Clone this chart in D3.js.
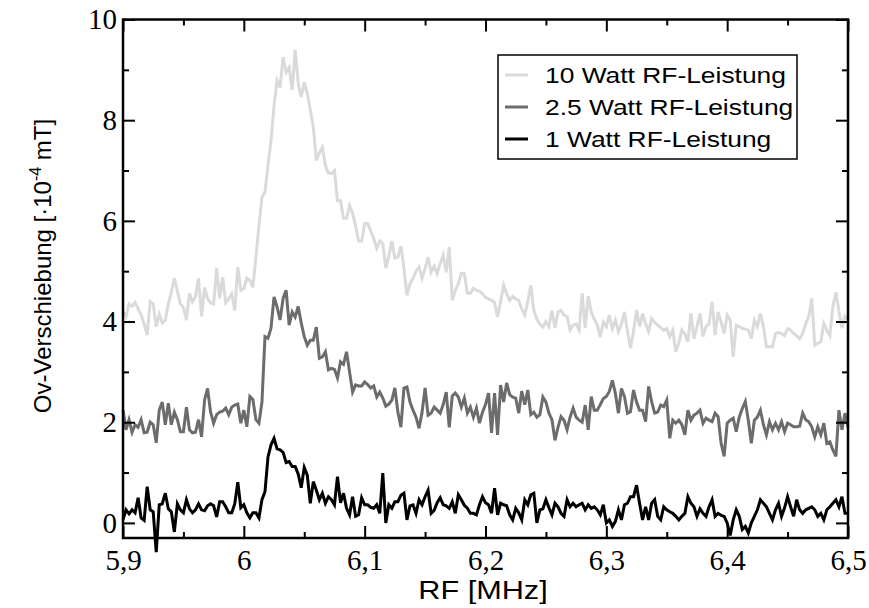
<!DOCTYPE html>
<html>
<head>
<meta charset="utf-8">
<script src="https://cdn.jsdelivr.net/npm/d3@7"></script>
<style>
  html, body { margin: 0; padding: 0; background: #fff; }
  svg { display: block; }
</style>
</head>
<body>
<svg id="chart" width="869" height="608"></svg>
<script>
// ---------------- data ----------------
const fStart = 5.9, fStep = 0.0025;   // RF sample grid [MHz]
const xTicks = [5.9, 6.0, 6.1, 6.2, 6.3, 6.4, 6.5];
const xTickLabels = ["5,9", "6", "6,1", "6,2", "6,3", "6,4", "6,5"];
const xMinor = [5.95, 6.05, 6.15, 6.25, 6.35, 6.45];
const yTicks = [0, 2, 4, 6, 8, 10];
const yTickLabels = ["0", "2", "4", "6", "8", "10"];
const yMinor = [1, 3, 5, 7, 9];
const seriesNames = ["10 Watt RF-Leistung", "2.5 Watt RF-Leistung", "1 Watt RF-Leistung"];
const seriesColors = ["#dadada", "#6c6c6c", "#000000"];

const p10 = [
4.20,4.10,4.35,4.30,4.38,4.25,4.13,3.95,3.73,4.40,
4.35,3.90,4.15,3.97,4.02,4.35,4.58,4.86,4.60,4.35,
4.28,4.03,4.56,4.39,4.50,4.86,4.10,4.68,4.45,4.37,
4.35,5.06,4.46,4.88,4.37,4.45,4.55,4.22,5.08,4.62,
4.65,4.86,4.82,4.68,5.28,5.90,6.47,6.57,7.10,7.60,
8.30,8.79,8.65,9.25,8.95,9.05,8.60,9.40,8.73,8.46,
8.75,8.53,8.20,7.86,7.20,7.35,7.46,7.10,6.95,6.94,
7.00,6.40,6.40,6.05,6.05,6.30,6.15,5.90,5.60,5.60,
5.95,5.95,5.80,5.65,5.45,5.60,5.55,5.06,5.30,5.60,
5.26,5.28,5.50,5.06,4.52,4.75,4.86,5.00,5.08,4.86,
5.05,5.28,4.98,5.10,4.95,5.15,5.32,4.98,5.48,4.42,
4.62,4.75,4.96,4.95,4.56,4.56,4.66,4.62,4.60,4.55,
4.48,4.45,4.42,4.38,4.09,4.40,4.72,4.55,4.42,4.50,
4.45,4.42,4.25,4.13,4.40,4.72,4.22,4.05,3.95,3.89,
4.00,3.90,4.22,3.87,4.19,4.22,4.13,4.10,3.83,3.93,
3.95,3.83,4.56,3.87,4.50,4.19,4.05,3.93,3.69,3.99,
3.90,4.13,3.86,4.03,3.80,3.95,4.19,3.80,3.47,3.80,
4.23,3.90,4.16,3.95,3.80,4.06,3.98,3.93,3.88,3.83,
3.86,3.70,3.83,3.40,3.57,3.83,3.75,3.60,4.16,3.66,
3.90,4.16,3.70,3.90,3.95,4.39,3.73,4.19,3.99,3.76,
4.13,4.03,3.30,3.93,3.90,3.86,3.85,3.83,3.66,4.03,
3.90,4.16,3.90,3.50,3.50,3.50,3.76,3.78,3.76,3.72,
3.86,3.83,3.76,3.72,3.66,3.76,3.96,4.10,4.46,3.53,
3.57,3.60,3.96,3.83,3.72,4.30,4.58,4.20,3.87,4.10,
4.05];

const p25 = [
2.25,1.85,2.05,1.80,1.95,1.90,2.05,1.79,1.80,2.00,
1.95,1.59,2.24,2.40,1.95,2.38,1.95,2.20,2.05,1.81,
1.81,2.30,1.85,1.79,1.80,2.05,1.71,2.44,2.67,2.20,
1.98,2.15,2.20,2.22,2.28,2.15,2.30,2.34,2.36,1.98,
2.24,1.91,2.51,2.45,2.05,1.98,2.40,3.70,3.67,3.87,
4.49,4.29,4.03,4.46,4.62,3.93,4.19,4.09,4.30,3.97,
3.70,3.53,3.63,3.63,3.89,3.27,3.30,3.40,3.04,3.07,
3.05,2.88,3.20,3.15,3.40,3.00,2.60,2.74,2.72,2.72,
2.80,2.75,2.68,2.72,2.50,2.60,2.48,2.32,2.36,2.44,
2.68,2.20,1.90,2.68,2.70,2.40,2.24,2.10,1.88,2.20,
2.68,2.14,2.18,2.30,2.24,2.18,2.35,2.60,1.90,2.52,
2.58,2.50,2.30,2.48,2.18,2.30,2.10,2.28,1.98,2.20,
2.35,2.58,1.79,2.58,1.75,2.74,2.40,2.78,2.55,2.50,
2.48,2.18,2.62,2.35,2.64,2.15,2.20,2.10,2.15,2.50,
2.40,2.18,2.05,1.64,1.90,2.11,2.04,1.85,2.10,2.28,
2.10,2.04,2.00,2.34,1.85,2.51,2.24,2.24,2.35,2.47,
2.51,2.61,2.83,2.57,2.18,2.67,2.51,2.18,2.21,2.64,
2.40,2.24,2.24,2.01,2.71,2.41,2.18,2.20,2.34,2.31,
2.44,1.68,2.04,1.98,2.04,1.95,1.75,2.24,2.04,2.14,
2.18,2.24,1.98,2.08,2.04,2.01,2.18,2.11,1.58,1.32,
1.98,2.04,2.08,1.81,2.10,2.27,2.41,2.04,1.58,2.04,
2.10,2.24,1.95,1.75,2.01,1.85,1.98,1.85,2.01,1.81,
1.98,1.95,1.91,1.91,1.92,2.18,2.05,2.01,1.91,1.71,
1.91,1.75,1.98,1.58,1.61,1.45,1.32,2.24,1.85,2.18,
1.90];

const p1 = [
0.06,0.26,0.18,0.26,0.20,0.50,0.10,0.05,0.72,0.26,
0.22,-0.58,0.36,0.38,0.59,0.28,0.22,-0.18,0.38,0.26,
0.20,0.46,0.28,0.20,0.26,0.38,0.26,0.24,0.34,0.38,
0.34,0.12,0.42,0.42,0.32,0.20,0.20,0.38,0.81,0.30,
0.36,0.20,0.10,0.20,0.20,0.10,0.46,0.62,1.31,1.55,
1.68,1.47,1.45,1.40,1.20,1.22,1.12,1.12,0.97,0.70,
1.10,0.95,0.39,0.82,0.65,0.46,0.59,0.39,0.52,0.46,
0.36,0.92,0.40,0.59,0.29,0.16,0.52,0.13,0.16,0.50,
0.36,0.36,0.31,0.29,0.36,0.19,0.99,0.00,0.36,0.29,
0.42,0.42,0.55,0.59,0.06,0.34,0.36,0.19,0.46,0.36,
0.52,0.65,0.19,0.25,0.40,0.50,0.36,0.34,0.29,0.42,
0.19,0.56,0.46,0.35,0.29,0.19,0.19,0.16,0.36,0.52,
0.40,0.36,0.19,0.69,0.16,0.39,0.36,0.34,0.16,0.06,
0.29,0.20,0.06,0.46,0.36,0.56,0.59,0.00,0.26,0.28,
0.46,0.30,0.16,0.39,0.32,0.19,0.13,0.46,0.32,0.39,
0.32,0.36,0.39,0.26,0.36,0.29,0.32,0.26,0.16,0.36,
0.00,0.06,-0.07,0.03,0.26,0.06,0.36,0.39,0.52,0.52,
0.75,0.39,0.06,0.32,0.06,0.39,0.46,0.13,0.06,0.32,
0.26,0.22,0.19,0.13,0.06,0.13,0.19,0.52,0.39,0.32,
0.13,0.28,0.19,0.13,0.32,0.46,0.13,0.19,0.15,0.13,
0.00,-0.25,0.06,0.26,0.13,-0.13,-0.07,-0.20,0.00,0.13,
0.26,0.46,0.39,0.32,0.19,0.06,0.26,0.39,0.13,0.30,
0.52,0.32,0.13,0.46,0.26,0.19,0.26,0.29,0.32,0.26,
0.13,0.19,0.06,0.26,0.32,0.39,0.46,0.32,0.52,0.19,
0.19];

const seriesValues = [p10, p25, p1];

// ---------------- layout ----------------
const W = 869, H = 608;
const m = { left: 123, right: 21, top: 19.5, bottom: 70 };
const pw = W - m.left - m.right, ph = H - m.top - m.bottom;

const svg = d3.select("#chart");
const g = svg.append("g").attr("transform", `translate(${m.left},${m.top})`);

const x = d3.scaleLinear().domain([5.9, 6.5]).range([0, pw]);
const y = d3.scaleLinear().domain([-0.3, 10]).range([ph, 0]);

const serif = "'Liberation Serif', 'Times New Roman', serif";
const sans = "'Liberation Sans', Arial, Helvetica, sans-serif";

// lines
const line = d3.line()
  .x((d, i) => x(fStart + fStep * i))
  .y(d => y(d));

seriesValues.forEach((vals, k) => {
  g.append("path")
    .datum(vals)
    .attr("fill", "none")
    .attr("stroke", seriesColors[k])
    .attr("stroke-width", 3)
    .attr("stroke-linejoin", "miter")
    .attr("stroke-miterlimit", 4)
    .attr("d", line);
});

// axes
function styleAxis(sel) {
  sel.select(".domain").remove();
  sel.selectAll(".tick line").attr("stroke", "#000").attr("stroke-width", 2);
  sel.selectAll(".tick text").attr("font-family", serif).attr("font-size", 29).attr("fill", "#000");
}

const xFmt = d => xTickLabels[xTicks.findIndex(t => Math.abs(t - d) < 1e-9)];
const yFmt = d => yTickLabels[yTicks.indexOf(d)];

g.append("g").attr("transform", `translate(0,${ph})`)
  .call(d3.axisBottom(x).tickValues(xTicks).tickFormat(xFmt).tickSize(-12).tickPadding(11))
  .call(styleAxis);
g.append("g").attr("transform", `translate(0,${ph})`)
  .call(d3.axisBottom(x).tickValues(xMinor).tickFormat("").tickSize(-6))
  .call(styleAxis);
g.append("g")
  .call(d3.axisTop(x).tickValues(xTicks).tickFormat("").tickSize(-12))
  .call(styleAxis);
g.append("g")
  .call(d3.axisTop(x).tickValues(xMinor).tickFormat("").tickSize(-6))
  .call(styleAxis);

g.append("g")
  .call(d3.axisLeft(y).tickValues(yTicks).tickFormat(yFmt).tickSize(-12).tickPadding(6))
  .call(styleAxis);
g.append("g")
  .call(d3.axisLeft(y).tickValues(yMinor).tickFormat("").tickSize(-6))
  .call(styleAxis);
g.append("g").attr("transform", `translate(${pw},0)`)
  .call(d3.axisRight(y).tickValues(yTicks).tickFormat("").tickSize(-12))
  .call(styleAxis);
g.append("g").attr("transform", `translate(${pw},0)`)
  .call(d3.axisRight(y).tickValues(yMinor).tickFormat("").tickSize(-6))
  .call(styleAxis);

// frame
g.append("rect")
  .attr("x", 0).attr("y", 0).attr("width", pw).attr("height", ph)
  .attr("fill", "none").attr("stroke", "#000").attr("stroke-width", 2.5);

// axis titles
svg.append("text")
  .attr("transform", "translate(483,599) scale(1.18,1)")
  .attr("text-anchor", "middle")
  .attr("font-family", sans).attr("font-size", 26)
  .text("RF [MHz]");

const yl = svg.append("text")
  .attr("transform", "translate(51,266) rotate(-90)")
  .attr("text-anchor", "middle")
  .attr("font-family", sans).attr("font-size", 24);
yl.append("tspan").text("Ov-Verschiebung [·10");
yl.append("tspan").attr("font-size", 16).attr("dy", -10).text("-4");
yl.append("tspan").attr("dy", 10).text(" mT]");

// legend
const lg = svg.append("g");
lg.append("rect")
  .attr("x", 498).attr("y", 55).attr("width", 299).attr("height", 104)
  .attr("fill", "#fff").attr("stroke", "#000").attr("stroke-width", 1.5);
const rowY = [75, 107, 139];
seriesNames.forEach((name, k) => {
  lg.append("line")
    .attr("x1", 505).attr("x2", 528)
    .attr("y1", rowY[k]).attr("y2", rowY[k])
    .attr("stroke", seriesColors[k]).attr("stroke-width", 3);
  lg.append("text")
    .attr("transform", `translate(545,${rowY[k] + 8}) scale(1.2,1)`)
    .attr("font-family", sans).attr("font-size", 22)
    .text(name);
});
</script>
</body>
</html>
